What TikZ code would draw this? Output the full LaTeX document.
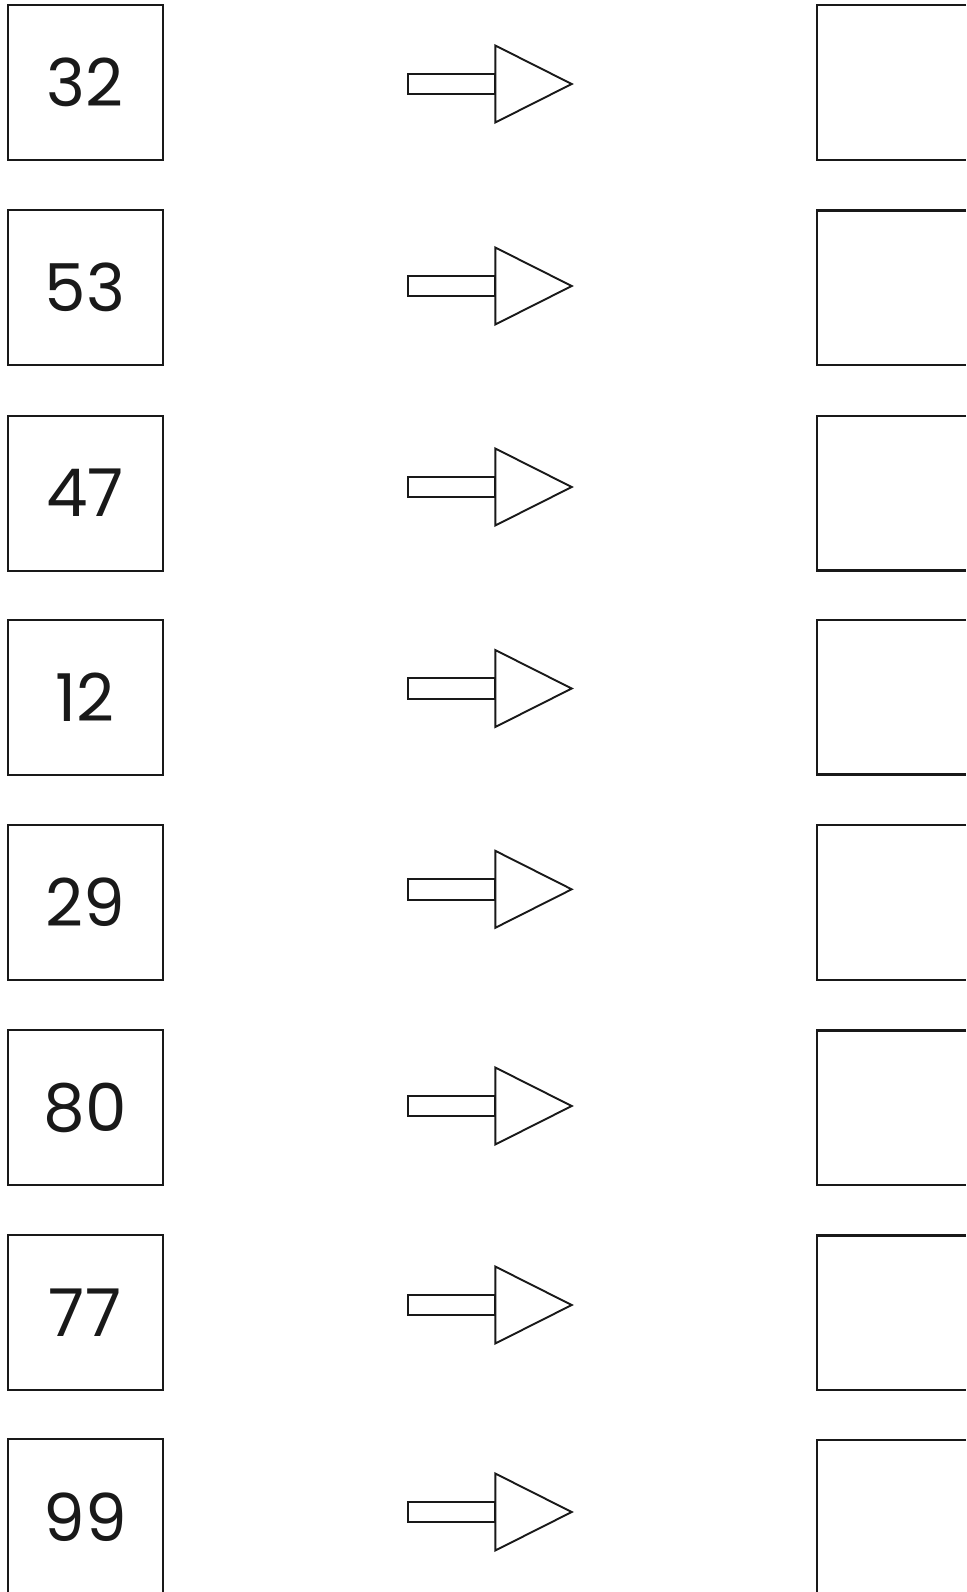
\documentclass[tikz,border=0pt]{standalone}
\usepackage{fontspec}
\setmainfont{Poppins}
\begin{document}
\begin{tikzpicture}[x=1pt,y=-1pt,
  numbox/.style={draw=black!90,line width=2pt,minimum width=155pt,minimum height=155pt,inner sep=0pt,font=\fontsize{66}{70}\selectfont,text=black!90},
  arrowshape/.style={draw=black!90,line width=1.9pt,fill=white,line join=miter},
  openbox/.style={draw=black!90,line width=2.4pt}]
\useasboundingbox (0,0) rectangle (966,1592);
\foreach \n/\t/\a [count=\i] in {32/5/84,53/210/286,47/415.5/487,12/619.5/688.5,29/824.8/889.3,80/1030/1106,77/1235/1305,99/1439.4/1512}{
  \node[numbox] (L\i) at (85,\t+77.5) {\n};
  \draw[arrowshape] (408.3,\a-10.3) rectangle (495.3,\a+10.3);
  \draw[arrowshape] (495.3,\a-38.5) -- (571.7,\a) -- (495.3,\a+38.5) -- cycle;
  \draw[openbox] (966,\t+0.3) -- (817,\t+0.3) -- (817,\t+155) -- (966,\t+155);
}
\end{tikzpicture}
\end{document}
